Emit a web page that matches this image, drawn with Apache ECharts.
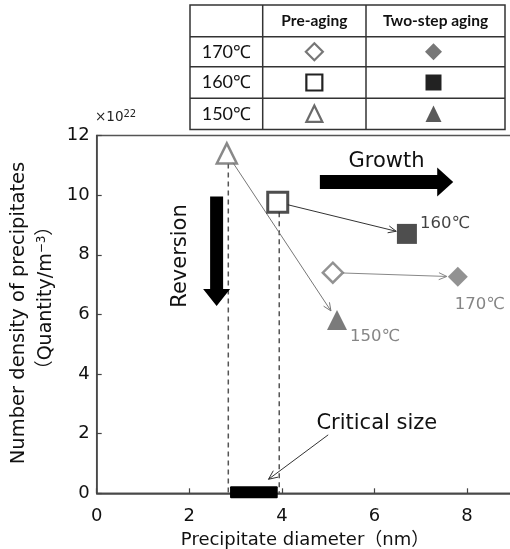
<!DOCTYPE html>
<html><head><meta charset="utf-8">
<script src="https://cdn.jsdelivr.net/npm/echarts@6/dist/echarts.min.js"></script>
<style>html,body{margin:0;padding:0;background:#fff}#c{width:510px;height:549px}</style>
</head><body><div id="c"></div>
<script>
// ---- data ----
const temps = ['170℃', '160℃', '150℃'];
const symbolsByTemp = ['diamond', 'rect', 'triangle'];
const preX = [5.10, 3.91, 2.81];
const preY = [7.40, 9.76, 11.40];
const twoX = [7.80, 6.70, 5.19];
const twoY = [7.26, 8.70, 5.81];
const xTicks = [0, 2, 4, 6, 8];
const yTicks = [0, 2, 4, 6, 8, 10, 12];
const criticalRange = [2.88, 3.91];
const tableHeader = ['', 'Pre-aging', 'Two-step aging'];
const dashedFor = [1, 2]; // indices of pre-aging points with a dashed drop line

// ---- styles ----
const FONT = '"DejaVu Sans", "Noto Sans CJK JP", sans-serif';
const TFONT = 'Lato, "Open Sans", sans-serif';
const preStroke = ['#777', '#222', '#6b6b6b'];
const twoFill = ['#777', '#222', '#5a5a5a'];
const connColor = ['#888', '#333', '#777'];
const labelColor = ['#666', '#111', '#666'];

const chart = echarts.init(document.getElementById('c'), null, {renderer: 'canvas'});

const preData = temps.map((t, i) => ({
  value: [preX[i], preY[i]], symbol: symbolsByTemp[i],
  itemStyle: {color: '#fff', borderColor: preStroke[i], borderWidth: i === 1 ? 3 : 2.5}
}));
const labelCfg = [
  {position: 'bottom', distance: 10, offset: [22, 0]},
  {position: 'right', distance: 3, offset: [0, -10]},
  {position: 'right', distance: 3, offset: [0, 17]}
];
const twoData = temps.map((t, i) => ({
  value: [twoX[i], twoY[i]], symbol: symbolsByTemp[i],
  itemStyle: {color: twoFill[i]},
  label: Object.assign({show: true, formatter: t, color: labelColor[i], fontSize: 16.5, fontFamily: FONT}, labelCfg[i])
}));

chart.setOption({
  animation: false,
  backgroundColor: '#fff',
  grid: {left: 96.7, top: 135.5, bottom: 55.7, right: -3.4, outerBoundsMode: 'none', containLabel: false,
    show: true, borderColor: '#555', borderWidth: 1.5},
  xAxis: {
    type: 'value', min: xTicks[0], max: 9, interval: 2,
    name: 'Precipitate diameter（nm）', nameLocation: 'middle', nameGap: 38,
    nameTextStyle: {fontSize: 18, color: '#111', fontFamily: FONT},
    axisLine: {lineStyle: {color: '#444', width: 1.5}},
    axisTick: {inside: true, length: 5, lineStyle: {color: '#444', width: 1.2}},
    axisLabel: {fontSize: 18, color: '#111', fontFamily: FONT, margin: 14, showMaxLabel: false,
      formatter: v => xTicks.includes(v) ? String(v) : ''},
    splitLine: {show: false}
  },
  yAxis: {
    type: 'value', min: yTicks[0], max: yTicks[yTicks.length - 1], interval: 2,
    axisLine: {show: true, lineStyle: {color: '#444', width: 1.5}},
    axisTick: {show: true, inside: true, length: 5, lineStyle: {color: '#444', width: 1.2}},
    axisLabel: {fontSize: 18, color: '#111', fontFamily: FONT, margin: 7},
    splitLine: {show: false}
  },
  series: [
    { // dashed drop lines
      type: 'custom', z: 1, silent: true,
      data: dashedFor.map(i => [preX[i], preY[i]]),
      renderItem: (params, api) => {
        const a = api.coord([api.value(0), api.value(1)]);
        const b = api.coord([api.value(0), 0]);
        return {type: 'line', shape: {x1: a[0] + 1.5, y1: a[1] + 10, x2: b[0] + 1.5, y2: b[1]},
          style: {stroke: '#555', lineWidth: 1.5, lineDash: [5, 4]}};
      }
    },
    { // connectors with open arrowheads
      type: 'custom', z: 1, silent: true,
      data: temps.map((t, i) => [preX[i], preY[i], twoX[i], twoY[i], i]),
      renderItem: (params, api) => {
        const a = api.coord([api.value(0), api.value(1)]);
        const b = api.coord([api.value(2), api.value(3)]);
        const i = api.value(4);
        const dx = b[0] - a[0], dy = b[1] - a[1], L = Math.hypot(dx, dy), ux = dx / L, uy = dy / L;
        const s = [a[0] + ux * 10, a[1] + uy * 10], e = [b[0] - ux * 11, b[1] - uy * 11];
        const h = 8, w = 3.5;
        const bk = [e[0] - ux * h, e[1] - uy * h];
        const p1 = [bk[0] - uy * w, bk[1] + ux * w], p2 = [bk[0] + uy * w, bk[1] - ux * w];
        const c = connColor[i];
        return {type: 'group', children: [
          {type: 'line', shape: {x1: s[0], y1: s[1], x2: e[0], y2: e[1]}, style: {stroke: c, lineWidth: 1}},
          {type: 'polyline', shape: {points: [p1, e, p2]}, style: {stroke: c, lineWidth: 1, fill: null}}
        ]};
      }
    },
    { // critical size bar
      type: 'custom', z: 5, silent: true,
      data: [criticalRange],
      renderItem: (params, api) => {
        const a = api.coord([api.value(0), 0]);
        const b = api.coord([api.value(1), 0]);
        return {type: 'rect', shape: {x: a[0], y: a[1] - 7, width: b[0] - a[0], height: 12, r: 1},
          style: {fill: '#000'}};
      }
    },
    {type: 'scatter', name: 'Pre-aging', symbolSize: 20, z: 3, data: preData},
    {type: 'scatter', name: 'Two-step aging', symbolSize: 20, z: 3, data: twoData}
  ]
});

// ---- annotations (anchored in data units) ----
const P = (x, y) => chart.convertToPixel({gridIndex: 0}, [x, y]);
const g = [];

// Growth arrow
(function () {
  const s = P(4.82, 10.44), e = P(7.70, 10.44);
  const y = s[1], hs = 7, hh = 14.5, hl = 16;
  g.push({type: 'polygon', shape: {points: [[s[0], y - hs], [e[0] - hl, y - hs], [e[0] - hl, y - hh], [e[0], y],
    [e[0] - hl, y + hh], [e[0] - hl, y + hs], [s[0], y + hs]]}, style: {fill: '#000'}, z: 10});
  const t = P(6.26, 11.12);
  g.push({type: 'text', x: t[0], y: t[1], style: {text: 'Growth', fontSize: 21, fontFamily: FONT, fill: '#111',
    align: 'center', verticalAlign: 'middle'}, z: 10});
})();
// Reversion arrow
(function () {
  const s = P(2.59, 9.95), e = P(2.59, 6.28);
  const x = s[0], hs = 6.5, hh = 13.5, hl = 17;
  g.push({type: 'polygon', shape: {points: [[x - hs, s[1]], [x + hs, s[1]], [x + hs, e[1] - hl], [x + hh, e[1] - hl],
    [x, e[1]], [x - hh, e[1] - hl], [x - hs, e[1] - hl]]}, style: {fill: '#000'}, z: 10});
  const t = P(1.81, 7.96);
  g.push({type: 'text', x: t[0], y: t[1], rotation: Math.PI / 2,
    style: {text: 'Reversion', fontSize: 21, fontFamily: FONT, fill: '#111', align: 'center', verticalAlign: 'middle'}, z: 10});
})();
// Critical size label + arrow
(function () {
  const a = P(5.00, 1.96), b = P(3.71, 0.47);
  const dx = b[0] - a[0], dy = b[1] - a[1], L = Math.hypot(dx, dy), ux = dx / L, uy = dy / L;
  const h = 9, w = 4, bk = [b[0] - ux * h, b[1] - uy * h];
  g.push({type: 'line', shape: {x1: a[0], y1: a[1], x2: b[0], y2: b[1]}, style: {stroke: '#333', lineWidth: 1}, z: 10});
  g.push({type: 'polyline', shape: {points: [[bk[0] - uy * w, bk[1] + ux * w], b, [bk[0] + uy * w, bk[1] - ux * w]]},
    style: {stroke: '#333', lineWidth: 1, fill: null}, z: 10});
  const t = P(6.05, 2.34);
  g.push({type: 'text', x: t[0], y: t[1], style: {text: 'Critical size', fontSize: 21, fontFamily: FONT, fill: '#111',
    align: 'center', verticalAlign: 'middle'}, z: 10});
})();

// y-axis title (two lines) and exponent
g.push({type: 'text', x: 19, y: 313, rotation: Math.PI / 2,
  style: {text: 'Number density of precipitates', fontSize: 19.5, fontFamily: FONT, fill: '#111', align: 'center', verticalAlign: 'middle'}});
g.push({type: 'text', x: 46, y: 298, rotation: Math.PI / 2,
  style: {text: '（Quantity/m{sup|−3}）', fontSize: 19, fontFamily: FONT, fill: '#111', align: 'center', verticalAlign: 'middle',
    rich: {sup: {fontSize: 12, fontFamily: FONT, fill: '#111', verticalAlign: 'top', padding: [0, 0, 8, 0]}}}});
g.push({type: 'text', x: 95, y: 117,
  style: {text: '×10{sup|22}', fontSize: 13.5, fontFamily: FONT, fill: '#222', align: 'left', verticalAlign: 'middle',
    rich: {sup: {fontSize: 10, fontFamily: FONT, fill: '#222', padding: [0, 0, 6, 0]}}}});

// ---- legend table ----
const TX = [190, 262.7, 366, 505], TY = [5, 36.7, 66.7, 98.3, 129.5];
g.push({type: 'rect', shape: {x: TX[0], y: TY[0], width: TX[3] - TX[0], height: TY[4] - TY[0]},
  style: {fill: '#fff', stroke: '#333', lineWidth: 1.5}, z: 20});
[1, 2].forEach(k => g.push({type: 'line', shape: {x1: TX[k], y1: TY[0], x2: TX[k], y2: TY[4]}, style: {stroke: '#333', lineWidth: 1.5}, z: 21}));
[1, 2, 3].forEach(k => g.push({type: 'line', shape: {x1: TX[0], y1: TY[k], x2: TX[3], y2: TY[k]}, style: {stroke: '#333', lineWidth: 1.5}, z: 21}));
tableHeader.forEach((h, k) => {
  if (!h) return;
  g.push({type: 'text', x: (TX[k] + TX[k + 1]) / 2, y: (TY[0] + TY[1]) / 2,
    style: {text: h, fontSize: 15.5, fontWeight: 'bold', fontFamily: TFONT, fill: '#111', align: 'center', verticalAlign: 'middle'}, z: 22});
});
function tableSymbol(kind, cx, cy, filled, color) {
  const st = filled ? {fill: color} : {fill: '#fff', stroke: color, lineWidth: 2.2};
  const s = 8.5;
  if (kind === 'diamond') return {type: 'polygon', shape: {points: [[cx, cy - s], [cx + s, cy], [cx, cy + s], [cx - s, cy]]}, style: st, z: 22};
  if (kind === 'rect') return {type: 'rect', shape: {x: cx - 8, y: cy - 8, width: 16, height: 16}, style: st, z: 22};
  return {type: 'polygon', shape: {points: [[cx, cy - 8.5], [cx + 8, cy + 8], [cx - 8, cy + 8]]}, style: st, z: 22};
}
temps.forEach((t, i) => {
  const cy = (TY[i + 1] + TY[i + 2]) / 2;
  g.push({type: 'text', x: (TX[0] + TX[1]) / 2, y: cy,
    style: {text: t, fontSize: 18, fontFamily: TFONT, fill: '#111', align: 'center', verticalAlign: 'middle'}, z: 22});
  g.push(tableSymbol(symbolsByTemp[i], (TX[1] + TX[2]) / 2, cy, false, preStroke[i]));
  g.push(tableSymbol(symbolsByTemp[i], (TX[2] + TX[3]) / 2 - 2, cy, true, twoFill[i]));
});

chart.setOption({graphic: {elements: g}});
</script>
</body></html>
